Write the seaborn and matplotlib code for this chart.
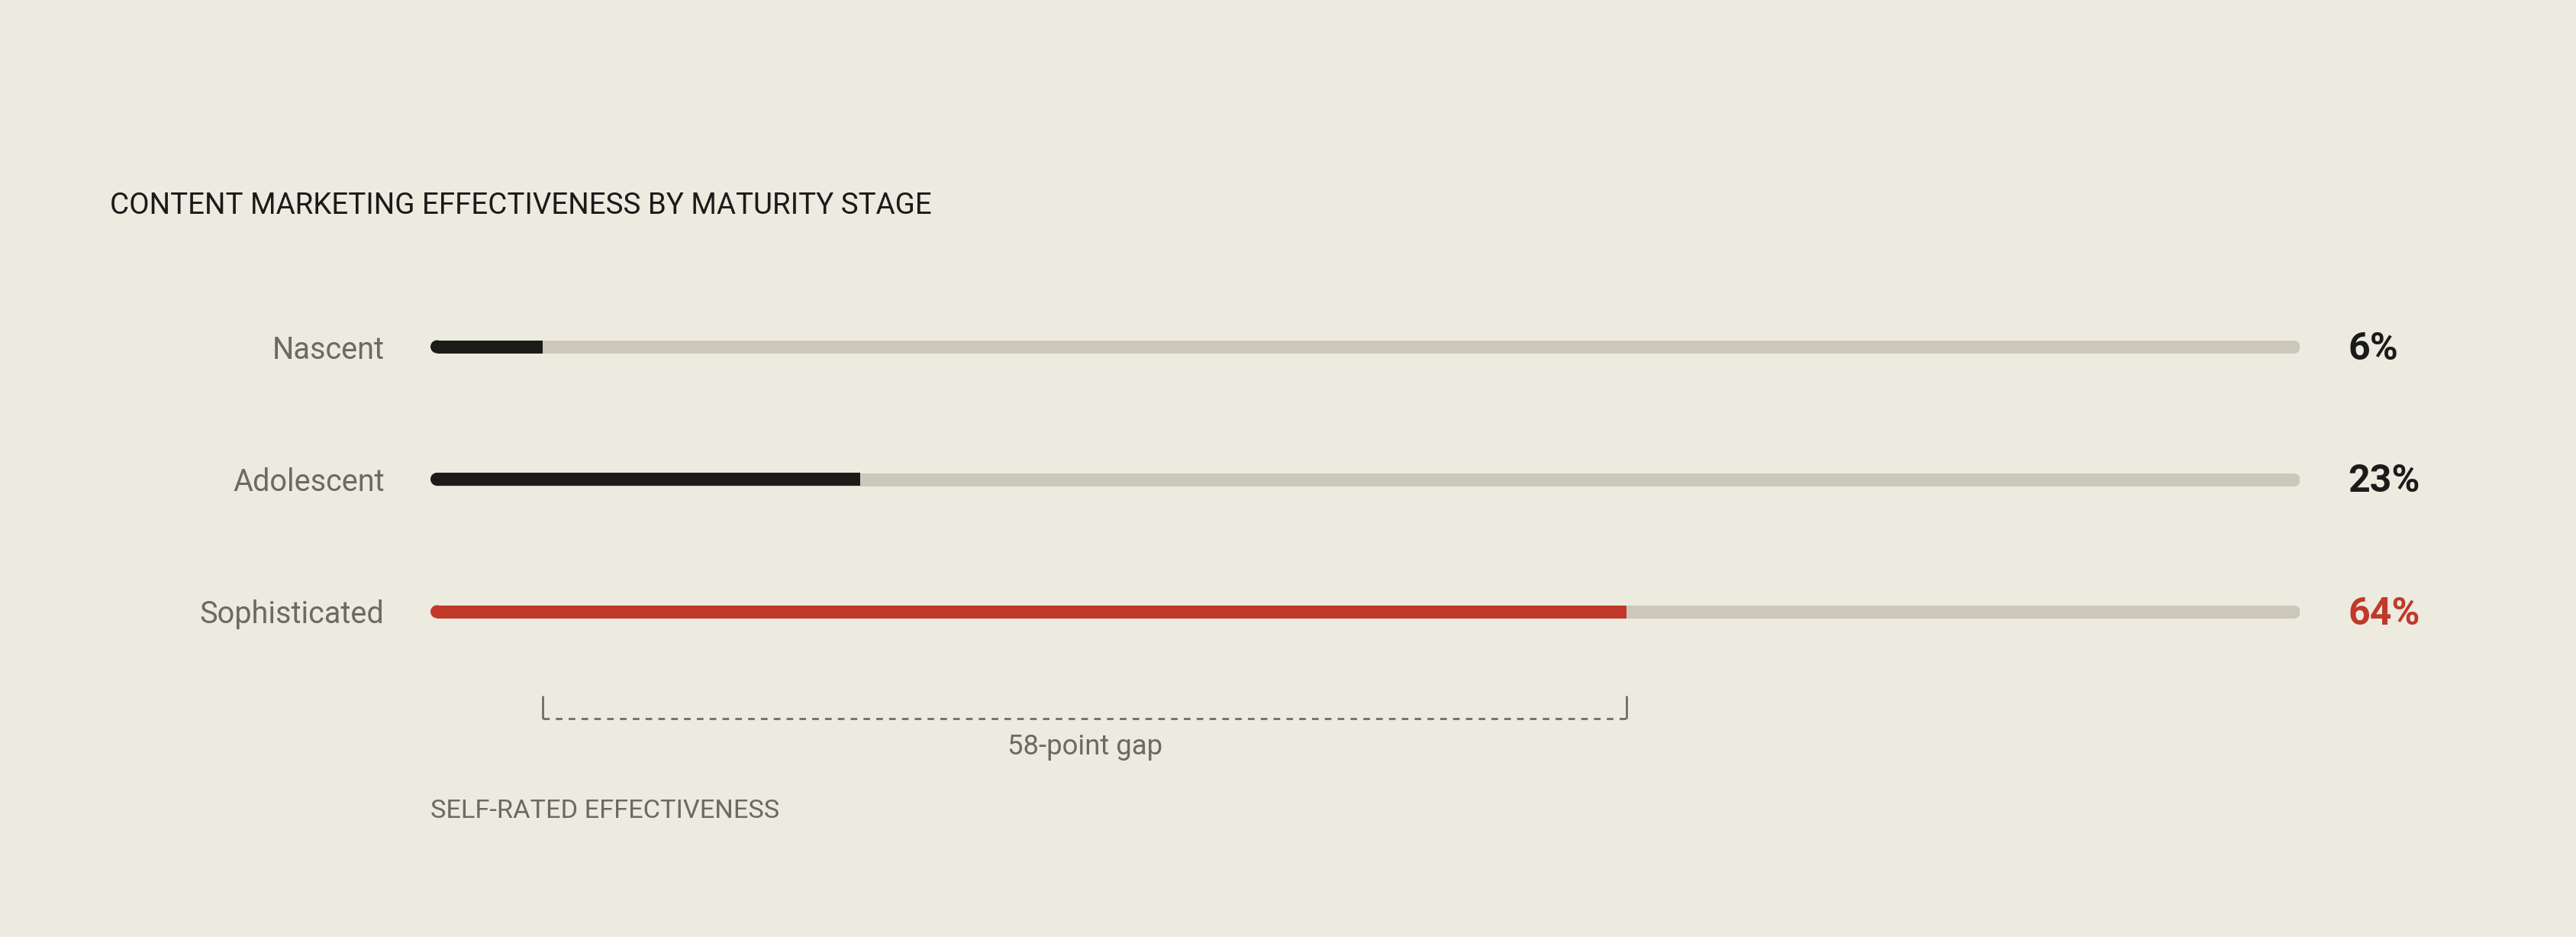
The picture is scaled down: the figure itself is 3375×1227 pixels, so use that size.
import matplotlib
matplotlib.use("Agg")
import matplotlib.pyplot as plt
import seaborn as sns
import numpy as np
import pandas as pd

# chart data
stages = ["Nascent", "Adolescent", "Sophisticated"]
effectiveness = [6, 23, 64]
bar_colors = ["#1b1b19", "#1b1b19", "#c0392b"]
title = "CONTENT MARKETING EFFECTIVENESS BY MATURITY STAGE"
axis_note = "SELF-RATED EFFECTIVENESS"

BG = "#edeae0"
TRACK = "#cbc7bb"
GREY_TXT = "#6b6a63"
DARK = "#1b1b19"

sns.set_theme(style="white")
plt.rcParams["font.family"] = ["Roboto", "DejaVu Sans"]

df = pd.DataFrame({"stage": stages, "value": effectiveness})

W, H, DPI = 3375, 1227, 150
fig = plt.figure(figsize=(W / DPI, H / DPI), dpi=DPI, facecolor=BG)
# axes spans the bar track horizontally, full height vertically
ax = fig.add_axes([564 / W, 0, 2449 / W, 1])
ax.set_facecolor(BG)

bar_px = 17
bar_pt = bar_px / DPI * 72  # bar thickness in points
row_px = 173.5
r = (bar_px / 2) / (2449 / 100)  # cap radius in data units
y = np.arange(len(stages))

# grey background track, rounded ends kept inside 0..100
ax.hlines(y, r, 100 - r, color=TRACK, linewidth=bar_pt, capstyle="round", zorder=1)

# value bars
sns.barplot(data=df, x="value", y="stage", hue="stage", palette=bar_colors,
            orient="h", width=bar_px / row_px, legend=False, ax=ax, zorder=2,
            saturation=1)
for p in ax.patches:
    p.set_linewidth(0)
    p.set_x(r)
    p.set_width(p.get_width() - r)

# rounded left ends of value bars
ax.scatter(np.full(len(stages), r), y, s=bar_pt ** 2, color=bar_colors,
           marker="o", linewidths=0, zorder=3, clip_on=False)

ax.set_xlim(0, 100)
ax.set_ylim((1227 - 454) / row_px, -454 / row_px)
ax.set_xlabel("")
ax.set_ylabel("")
ax.set_xticks([])
ax.tick_params(axis="y", length=0, pad=29)
ax.set_yticks(y)
ax.set_yticklabels(stages, fontsize=19, color=GREY_TXT)
sns.despine(ax=ax, left=True, bottom=True)

# value labels
for i, v in enumerate(effectiveness):
    ax.annotate(f"{v}%", xy=(100, i), xytext=(30.5, -1.5), textcoords="offset points",
                ha="left", va="center", fontsize=24, fontweight="bold",
                color=bar_colors[i], annotation_clip=False)

# gap bracket between nascent and sophisticated
lo, hi = effectiveness[0], effectiveness[-1]
gap = hi - lo
y_line = (941 - 454) / row_px
y_top = (911 - 454) / row_px
ax.plot([lo, hi], [y_line, y_line], color=GREY_TXT, linewidth=1.3,
        linestyle=(0, (3.2, 3.0)), clip_on=False)
ax.vlines([lo, hi], y_top, y_line, color=GREY_TXT, linewidth=1.3, clip_on=False)
ax.text((lo + hi) / 2, (978 - 454) / row_px, f"{gap}-point gap", ha="center",
        va="center", fontsize=17.5, color=GREY_TXT)

ax.text(0, (1062 - 454) / row_px, axis_note, ha="left", va="center",
        fontsize=16.5, color=GREY_TXT)

fig.text(144 / W, 1 - 270 / H, title, ha="left", va="center", fontsize=18.5,
         color=DARK)

fig.savefig("out.png", dpi=DPI, facecolor=BG)
